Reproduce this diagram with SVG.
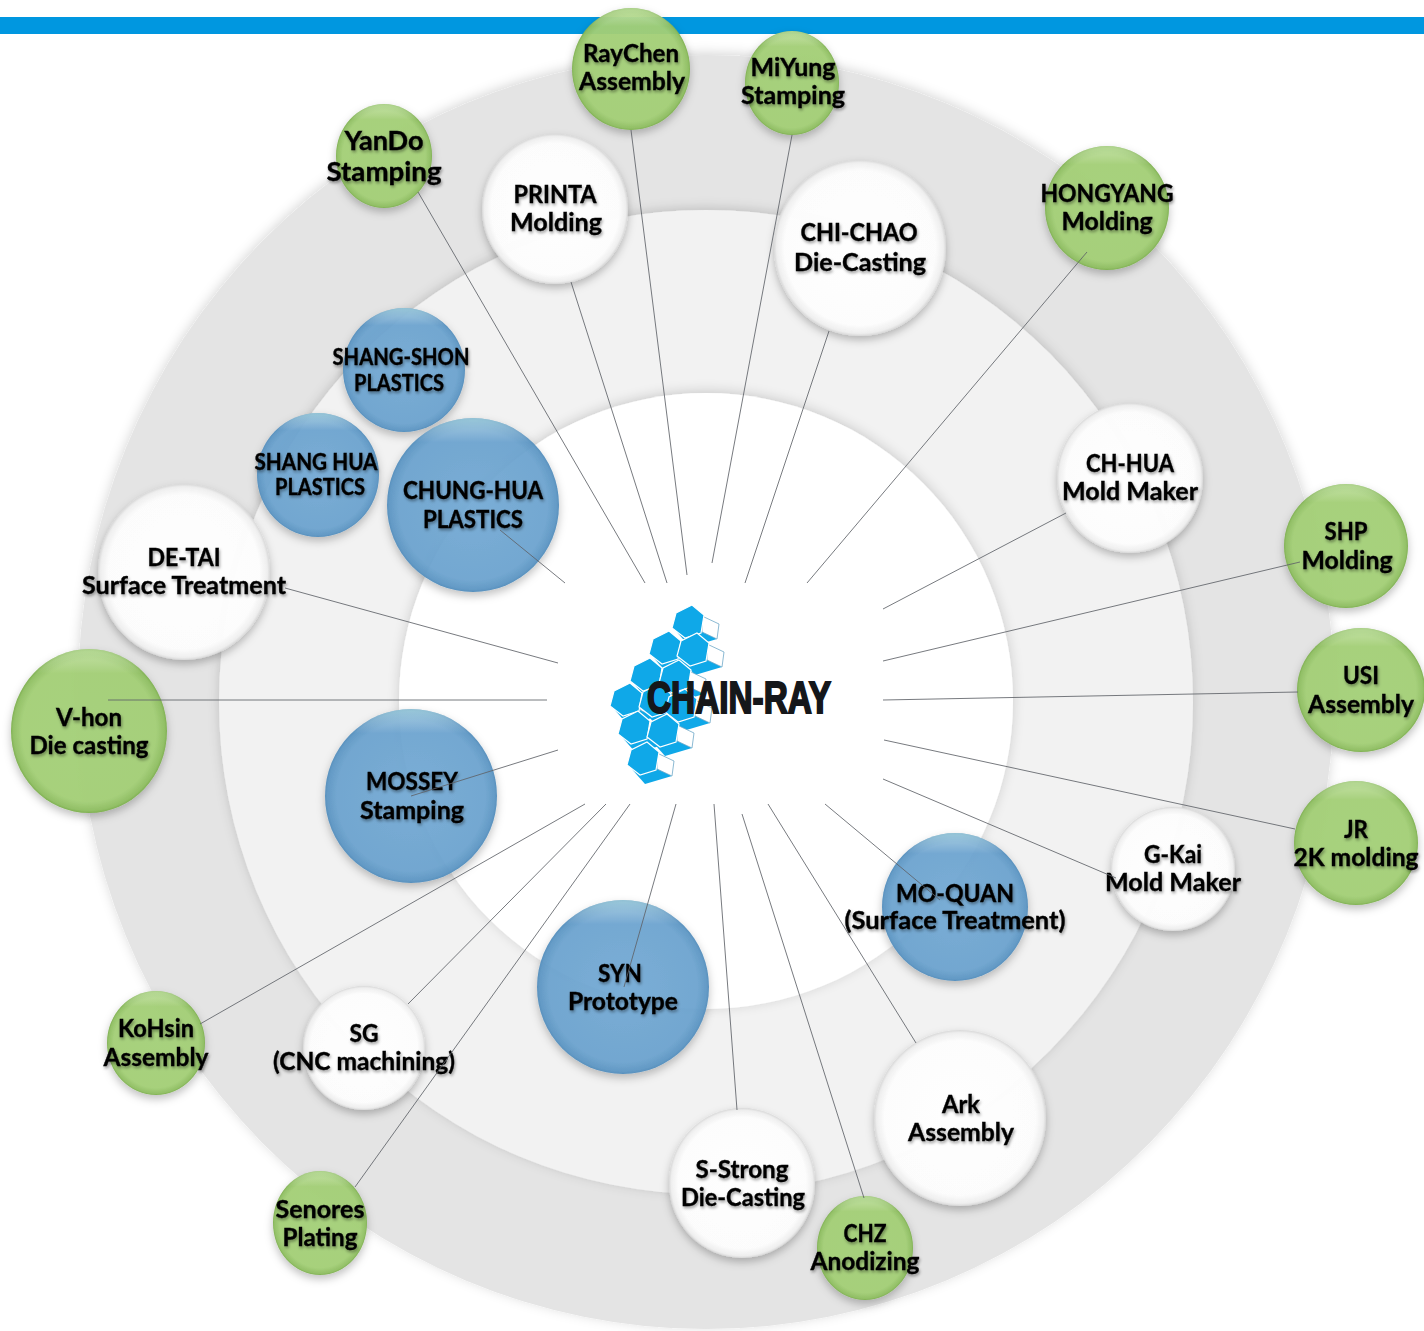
<svg xmlns="http://www.w3.org/2000/svg" xmlns:xlink="http://www.w3.org/1999/xlink" width="1424" height="1331" viewBox="0 0 1424 1331">
<style>
text{font-family:"Lato","Carlito","Open Sans",sans-serif;font-weight:700;font-size:25px;fill:#050505;stroke:#050505;stroke-width:.35;text-anchor:middle;filter:url(#ts)}
.g{fill:url(#green);filter:url(#ns)}
.b{fill:url(#blue);filter:url(#ns)}
.w{fill:url(#white);filter:url(#ns)}
.s{fill:url(#gloss)}
.sb{fill:url(#glossb)}
#connectors line{stroke:#5f6368;stroke-width:1;stroke-opacity:.85}
.h{fill:#0fa8e8;stroke:#fff;stroke-width:1.2}
.c{fill:#fff;stroke:#6fa8c8;stroke-width:.8}
.d{fill:#0fa8e8}
.sm{font-size:22px}
.md{font-size:24px}
.lg{font-size:27px}
</style>
<defs>
<radialGradient id="green" cx=".5" cy=".5" r=".5"><stop offset="0" stop-color="#a5d179" stop-opacity=".94"/><stop offset=".86" stop-color="#a4d077" stop-opacity=".94"/><stop offset=".97" stop-color="#90bf63" stop-opacity=".96"/><stop offset="1" stop-color="#7fb052"/></radialGradient>
<radialGradient id="blue" cx=".5" cy=".5" r=".5"><stop offset="0" stop-color="#72aad6" stop-opacity=".9"/><stop offset=".86" stop-color="#6aa3d0" stop-opacity=".9"/><stop offset=".97" stop-color="#5c96c4" stop-opacity=".93"/><stop offset="1" stop-color="#5890bd"/></radialGradient>
<radialGradient id="white" cx=".5" cy=".5" r=".5"><stop offset="0" stop-color="#fff" stop-opacity=".97"/><stop offset=".88" stop-color="#fdfdfd" stop-opacity=".97"/><stop offset=".97" stop-color="#eee"/><stop offset="1" stop-color="#d8d8d8"/></radialGradient>
<linearGradient id="gloss" x1="0" y1="0" x2="0" y2="1"><stop offset="0" stop-color="#eaffd8" stop-opacity=".4"/><stop offset=".15" stop-color="#fff" stop-opacity="0"/></linearGradient>
<linearGradient id="glossb" x1="0" y1="0" x2="0" y2="1"><stop offset="0" stop-color="#d8fff0" stop-opacity=".45"/><stop offset=".14" stop-color="#fff" stop-opacity="0"/></linearGradient>
<filter id="ns" x="-20%" y="-20%" width="140%" height="145%"><feDropShadow dx="0" dy="4" stdDeviation="4" flood-color="#000" flood-opacity=".26"/></filter>
<filter id="rs" x="-5%" y="-5%" width="110%" height="110%"><feDropShadow dx="0" dy="-2" stdDeviation="6" flood-color="#000" flood-opacity=".16"/></filter>
<filter id="ts" x="-10%" y="-20%" width="120%" height="150%"><feDropShadow dx="1" dy="2" stdDeviation="1.6" flood-color="#000" flood-opacity=".38"/></filter>
<g id="cell"><polygon class="d" points="-15,9 0,26 27,18 12,10"/><polygon class="c" points="12,-5 29,3 27,18 12,11"/><polygon class="h" points="2,-16 14,-6 11,12 -5,17 -18,7 -14,-8"/></g>
</defs>
<rect width="1424" height="1331" fill="#fff"/>
<rect x="0" y="17" width="1424" height="17" fill="#0097e0"/>
<g id="rings">
<ellipse cx="706" cy="692" rx="628" ry="637" fill="#e4e4e4" filter="url(#rs)"/>
<ellipse cx="706" cy="702" rx="487" ry="492" fill="#f2f2f2" filter="url(#rs)"/>
<ellipse cx="706" cy="701" rx="307" ry="308" fill="#fff" filter="url(#rs)"/>
</g>
<g id="node-chain-ray">
<use xlink:href="#cell" x="690" y="621"/><use xlink:href="#cell" x="667" y="647"/><use xlink:href="#cell" x="695" y="649"/><use xlink:href="#cell" x="648" y="674"/><use xlink:href="#cell" x="677" y="676"/><use xlink:href="#cell" x="628" y="699"/><use xlink:href="#cell" x="657" y="700"/><use xlink:href="#cell" x="683" y="705"/><use xlink:href="#cell" x="636" y="727"/><use xlink:href="#cell" x="665" y="730"/><use xlink:href="#cell" x="645" y="758"/>
<text x="739" y="713" textLength="184" lengthAdjust="spacingAndGlyphs" style="font-family:'Liberation Sans',sans-serif;font-size:45px;font-weight:700;fill:#15171a;stroke:#15171a;stroke-width:2;filter:none">CHAIN-RAY</text>
</g>
<g id="node-raychen"><ellipse class="g" cx="631" cy="69" rx="59" ry="61"/><ellipse class="s" cx="631" cy="69" rx="59" ry="61"/><text x="631" y="62" textLength="96" lengthAdjust="spacingAndGlyphs">RayChen</text><text x="632" y="90" textLength="106" lengthAdjust="spacingAndGlyphs">Assembly</text></g>
<g id="node-miyung"><ellipse class="g" cx="792" cy="83" rx="47" ry="52"/><ellipse class="s" cx="792" cy="83" rx="47" ry="52"/><text x="793" y="76" textLength="85" lengthAdjust="spacingAndGlyphs">MiYung</text><text x="793" y="104" textLength="104" lengthAdjust="spacingAndGlyphs">Stamping</text></g>
<g id="node-yando"><ellipse class="g" cx="384" cy="156" rx="48" ry="52"/><ellipse class="s" cx="384" cy="156" rx="48" ry="52"/><text class="lg" x="384" y="150" textLength="79" lengthAdjust="spacingAndGlyphs">YanDo</text><text class="lg" x="384" y="181" textLength="115" lengthAdjust="spacingAndGlyphs">Stamping</text></g>
<g id="node-printa"><ellipse class="w" cx="555" cy="209" rx="73" ry="75"/><text x="555" y="203" textLength="83" lengthAdjust="spacingAndGlyphs">PRINTA</text><text x="556" y="231" textLength="92" lengthAdjust="spacingAndGlyphs">Molding</text></g>
<g id="node-chi-chao"><ellipse class="w" cx="860" cy="248" rx="86" ry="88"/><text x="859" y="241" textLength="117" lengthAdjust="spacingAndGlyphs">CHI-CHAO</text><text x="860" y="271" textLength="132" lengthAdjust="spacingAndGlyphs">Die-Casting</text></g>
<g id="node-hongyang"><ellipse class="g" cx="1107" cy="208" rx="62" ry="62"/><ellipse class="s" cx="1107" cy="208" rx="62" ry="62"/><text x="1107" y="202" textLength="133" lengthAdjust="spacingAndGlyphs">HONGYANG</text><text x="1107" y="230" textLength="91" lengthAdjust="spacingAndGlyphs">Molding</text></g>
<g id="node-shang-shon"><ellipse class="b" cx="404" cy="370" rx="61" ry="62"/><ellipse class="sb" cx="404" cy="370" rx="61" ry="62"/><text class="sm" x="401" y="365" textLength="137" lengthAdjust="spacingAndGlyphs">SHANG-SHON</text><text class="sm" x="399" y="391" textLength="90" lengthAdjust="spacingAndGlyphs">PLASTICS</text></g>
<g id="node-shang-hua"><ellipse class="b" cx="318" cy="475" rx="61" ry="62"/><ellipse class="sb" cx="318" cy="475" rx="61" ry="62"/><text class="sm" x="316" y="470" textLength="123" lengthAdjust="spacingAndGlyphs">SHANG HUA</text><text class="sm" x="320" y="495" textLength="90" lengthAdjust="spacingAndGlyphs">PLASTICS</text></g>
<g id="node-chung-hua"><ellipse class="b" cx="473" cy="505" rx="86" ry="87"/><ellipse class="sb" cx="473" cy="505" rx="86" ry="87"/><text x="473" y="499" textLength="140" lengthAdjust="spacingAndGlyphs">CHUNG-HUA</text><text x="473" y="528" textLength="100" lengthAdjust="spacingAndGlyphs">PLASTICS</text></g>
<g id="node-ch-hua"><ellipse class="w" cx="1130" cy="478" rx="73" ry="75"/><text x="1130" y="472" textLength="88" lengthAdjust="spacingAndGlyphs">CH-HUA</text><text x="1130" y="500" textLength="136" lengthAdjust="spacingAndGlyphs">Mold Maker</text></g>
<g id="node-de-tai"><ellipse class="w" cx="184" cy="572" rx="86" ry="88"/><text x="184" y="566" textLength="73" lengthAdjust="spacingAndGlyphs">DE-TAI</text><text x="184" y="594" textLength="204" lengthAdjust="spacingAndGlyphs">Surface Treatment</text></g>
<g id="node-shp"><ellipse class="g" cx="1346" cy="546" rx="62" ry="62"/><ellipse class="s" cx="1346" cy="546" rx="62" ry="62"/><text x="1346" y="540" textLength="43" lengthAdjust="spacingAndGlyphs">SHP</text><text x="1347" y="569" textLength="91" lengthAdjust="spacingAndGlyphs">Molding</text></g>
<g id="node-usi"><ellipse class="g" cx="1361" cy="690" rx="64" ry="62"/><ellipse class="s" cx="1361" cy="690" rx="64" ry="62"/><text x="1361" y="684" textLength="36" lengthAdjust="spacingAndGlyphs">USI</text><text x="1361" y="713" textLength="106" lengthAdjust="spacingAndGlyphs">Assembly</text></g>
<g id="node-v-hon"><ellipse class="g" cx="89" cy="731" rx="78" ry="82"/><ellipse class="s" cx="89" cy="731" rx="78" ry="82"/><text x="89" y="726" textLength="66" lengthAdjust="spacingAndGlyphs">V-hon</text><text x="89" y="754" textLength="119" lengthAdjust="spacingAndGlyphs">Die casting</text></g>
<g id="node-mossey"><ellipse class="b" cx="411" cy="796" rx="86" ry="87"/><ellipse class="sb" cx="411" cy="796" rx="86" ry="87"/><text x="412" y="790" textLength="92" lengthAdjust="spacingAndGlyphs">MOSSEY</text><text x="412" y="819" textLength="104" lengthAdjust="spacingAndGlyphs">Stamping</text></g>
<g id="node-jr"><ellipse class="g" cx="1356" cy="843" rx="62" ry="62"/><ellipse class="s" cx="1356" cy="843" rx="62" ry="62"/><text x="1356" y="838" textLength="24" lengthAdjust="spacingAndGlyphs">JR</text><text x="1356" y="866" textLength="125" lengthAdjust="spacingAndGlyphs">2K molding</text></g>
<g id="node-g-kai"><ellipse class="w" cx="1173" cy="869" rx="62" ry="62"/><text x="1173" y="863" textLength="58" lengthAdjust="spacingAndGlyphs">G-Kai</text><text x="1173" y="891" textLength="136" lengthAdjust="spacingAndGlyphs">Mold Maker</text></g>
<g id="node-mo-quan"><ellipse class="b" cx="955" cy="907" rx="73" ry="74"/><ellipse class="sb" cx="955" cy="907" rx="73" ry="74"/><text class="md" x="955" y="902" textLength="118" lengthAdjust="spacingAndGlyphs">MO-QUAN</text><text class="md" x="955" y="929" textLength="221" lengthAdjust="spacingAndGlyphs">(Surface Treatment)</text></g>
<g id="node-kohsin"><ellipse class="g" cx="156" cy="1043" rx="49" ry="52"/><ellipse class="s" cx="156" cy="1043" rx="49" ry="52"/><text x="156" y="1037" textLength="76" lengthAdjust="spacingAndGlyphs">KoHsin</text><text x="156" y="1066" textLength="105" lengthAdjust="spacingAndGlyphs">Assembly</text></g>
<g id="node-sg"><ellipse class="w" cx="364" cy="1048" rx="61" ry="62"/><text x="364" y="1042" textLength="29" lengthAdjust="spacingAndGlyphs">SG</text><text x="364" y="1070" textLength="182" lengthAdjust="spacingAndGlyphs">(CNC machining)</text></g>
<g id="node-syn"><ellipse class="b" cx="623" cy="987" rx="86" ry="87"/><ellipse class="sb" cx="623" cy="987" rx="86" ry="87"/><text x="620" y="982" textLength="44" lengthAdjust="spacingAndGlyphs">SYN</text><text x="623" y="1010" textLength="110" lengthAdjust="spacingAndGlyphs">Prototype</text></g>
<g id="node-ark"><ellipse class="w" cx="960" cy="1118" rx="86" ry="88"/><text x="961" y="1113" textLength="38" lengthAdjust="spacingAndGlyphs">Ark</text><text x="961" y="1141" textLength="106" lengthAdjust="spacingAndGlyphs">Assembly</text></g>
<g id="node-s-strong"><ellipse class="w" cx="742" cy="1183" rx="73" ry="75"/><text x="742" y="1178" textLength="93" lengthAdjust="spacingAndGlyphs">S-Strong</text><text x="743" y="1206" textLength="124" lengthAdjust="spacingAndGlyphs">Die-Casting</text></g>
<g id="node-chz"><ellipse class="g" cx="865" cy="1248" rx="48" ry="52"/><ellipse class="s" cx="865" cy="1248" rx="48" ry="52"/><text x="865" y="1242" textLength="43" lengthAdjust="spacingAndGlyphs">CHZ</text><text x="865" y="1270" textLength="109" lengthAdjust="spacingAndGlyphs">Anodizing</text></g>
<g id="node-senores"><ellipse class="g" cx="320" cy="1223" rx="47" ry="52"/><ellipse class="s" cx="320" cy="1223" rx="47" ry="52"/><text x="320" y="1218" textLength="89" lengthAdjust="spacingAndGlyphs">Senores</text><text x="320" y="1246" textLength="75" lengthAdjust="spacingAndGlyphs">Plating</text></g>
<g id="connectors">
<line x1="418" y1="192" x2="645" y2="583"/>
<line x1="571" y1="282" x2="667" y2="583"/>
<line x1="631" y1="130" x2="687" y2="575"/>
<line x1="792" y1="135" x2="712" y2="563"/>
<line x1="829" y1="331" x2="745" y2="583"/>
<line x1="1087" y1="252" x2="807" y2="583"/>
<line x1="1066" y1="513" x2="883" y2="609"/>
<line x1="1300" y1="562" x2="883" y2="661"/>
<line x1="1298" y1="692" x2="883" y2="700"/>
<line x1="1295" y1="829" x2="884" y2="740"/>
<line x1="1116" y1="878" x2="883" y2="779"/>
<line x1="940" y1="900" x2="825" y2="804"/>
<line x1="916" y1="1043" x2="768" y2="804"/>
<line x1="864" y1="1198" x2="742" y2="814"/>
<line x1="737" y1="1110" x2="714" y2="804"/>
<line x1="624" y1="987" x2="676" y2="804"/>
<line x1="355" y1="1187" x2="630" y2="804"/>
<line x1="408" y1="1004" x2="606" y2="804"/>
<line x1="200" y1="1024" x2="585" y2="804"/>
<line x1="411" y1="796" x2="558" y2="750"/>
<line x1="108" y1="700" x2="547" y2="700"/>
<line x1="285" y1="588" x2="558" y2="663"/>
<line x1="500" y1="530" x2="565" y2="583"/>
</g>
</svg>
